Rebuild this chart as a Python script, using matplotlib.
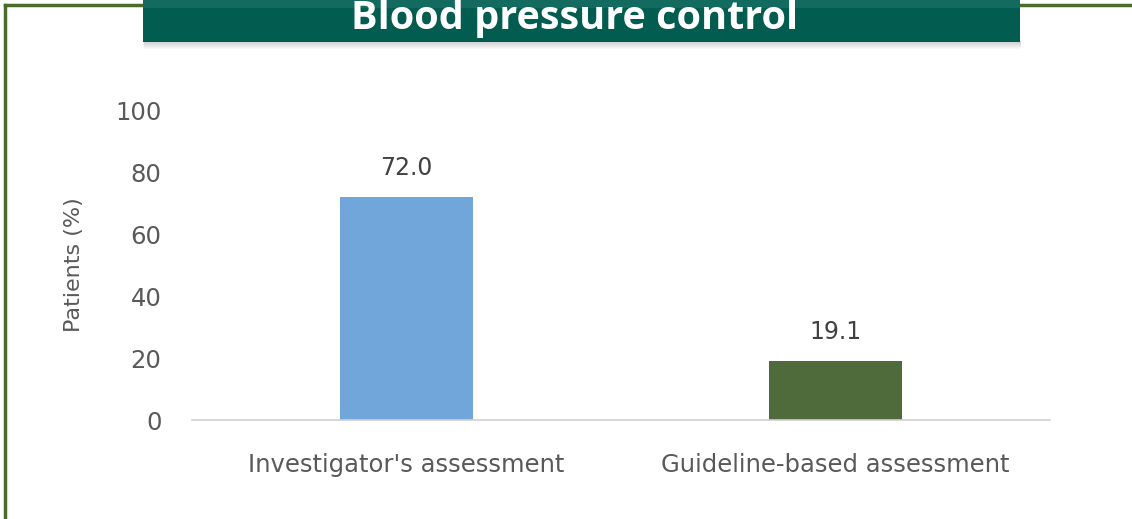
#!/usr/bin/env python3
"""Blood pressure control bar chart."""

import matplotlib.pyplot as plt
from matplotlib.patches import Rectangle

CATEGORIES = ["Investigator's assessment", "Guideline-based assessment"]
VALUES = [72.0, 19.1]
COLORS = ["#70a6d9", "#4f6a3b"]
YTICKS = [0, 20, 40, 60, 80, 100]

FONT = ["DejaVu Sans"]
GRAY = "#595959"


def main() -> None:
    fig = plt.figure(figsize=(11.32, 5.19), dpi=100)
    W, H = 1132, 519

    # green frame lines (behind the banner)
    frame = "#4a6b2a"
    fig.add_artist(plt.Line2D([5 / W, 5 / W], [0.0, 1 - 5 / H], color=frame, lw=2.5, zorder=1))
    fig.add_artist(plt.Line2D([5 / W, 1.0], [1 - 5 / H, 1 - 5 / H], color=frame, lw=2.5, zorder=1))

    # title banner with soft shadow
    x0, x1 = 143 / W, 1020 / W
    for k in range(8):
        fig.add_artist(Rectangle((x0 + 0.001, 1 - (42 + k) / H), x1 - x0, 1 / H,
                                 color="#909090", alpha=0.45 * (1 - k / 8), lw=0, zorder=2))
    fig.add_artist(Rectangle((x0, 1 - 42 / H), x1 - x0, 42 / H, color="#035c50", lw=0, zorder=3))
    fig.add_artist(Rectangle((x0, 1 - 8 / H), x1 - x0, 8 / H, color="#136a5f", lw=0, zorder=3))
    fig.text(0.508, 1 - 29 / H, "Blood pressure control", color="white", fontsize=28.5,
             fontweight="bold", ha="center", va="baseline", zorder=4,
             family=["Open Sans", "DejaVu Sans"])

    ax = fig.add_axes([192 / W, 1 - 420 / H, 858 / W, 310 / H])
    x = range(len(CATEGORIES))
    ax.bar(x, VALUES, width=0.31, color=COLORS, zorder=2)
    for i, v in zip(x, VALUES):
        ax.text(i, v + 5.5, f"{v:.1f}", ha="center", va="bottom", fontsize=17,
                color="#404040", family=FONT)

    ax.set_xlim(-0.5, 1.5)
    ax.set_ylim(0, 100)
    ax.set_yticks(YTICKS)
    ax.set_xticks(list(x))
    ax.set_xticklabels(CATEGORIES)
    for spine in ["top", "right", "left"]:
        ax.spines[spine].set_visible(False)
    ax.spines["bottom"].set_color("#d0d0d0")
    ax.spines["bottom"].set_linewidth(1.2)
    ax.tick_params(axis="y", length=0, pad=22, labelsize=17.5, labelcolor=GRAY)
    ax.tick_params(axis="x", length=0, pad=24, labelsize=17.5, labelcolor=GRAY)
    for lbl in ax.get_xticklabels() + ax.get_yticklabels():
        lbl.set_family(FONT)

    ax.set_ylabel("Patients (%)", fontsize=16, color=GRAY, family=FONT)
    ax.yaxis.set_label_coords(-0.126, 0.5)

    plt.savefig("out.png", dpi=100)


if __name__ == "__main__":
    main()
